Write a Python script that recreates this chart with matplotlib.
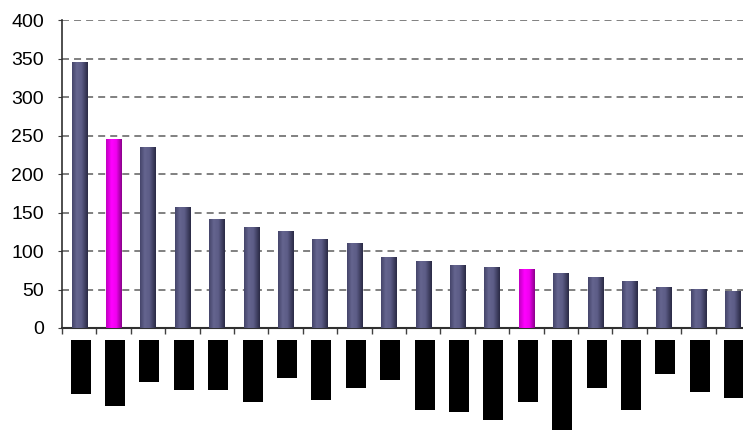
import numpy as np
import matplotlib.pyplot as plt
from matplotlib.colors import LinearSegmentedColormap

plt.rcParams['font.family'] = ['Liberation Sans', 'DejaVu Sans']

# values, sorted descending
values = [346, 245, 235, 157, 141, 131, 126, 116, 110, 92,
          87, 82, 79, 77, 71, 66, 61, 53, 51, 48]
# which bars are highlighted (magenta)
highlight = [1, 13]
# the category names are blacked out in the source: length of each black box (px)
label_len = [54, 66, 42, 50, 50, 62, 38, 60, 48, 40,
             70, 72, 80, 62, 90, 48, 70, 34, 52, 58]
yticks = [0, 50, 100, 150, 200, 250, 300, 350, 400]

W, H = 743, 430
fig = plt.figure(figsize=(W / 100, H / 100), dpi=100)
step = 34.4
n = len(values)
ax = fig.add_axes([62 / W, (H - 328) / H, n * step / W, 308 / H])

blue = LinearSegmentedColormap.from_list(
    'b', [(0, '#45456a'), (0.3, '#65658f'), (0.6, '#5c5c86'), (1, '#2a2a45')])
pink = LinearSegmentedColormap.from_list(
    'p', [(0, '#c000c0'), (0.35, '#ff00ff'), (0.65, '#f000f0'), (1, '#8a008a')])
grad = np.linspace(0, 1, 64).reshape(1, -1)

x = np.arange(n)
bars = ax.bar(x, values, width=0.44, color='none', zorder=3)
for i, b in enumerate(bars):
    x0 = b.get_x()
    cmap = pink if i in highlight else blue
    im = ax.imshow(grad, cmap=cmap, aspect='auto', zorder=3,
                   extent=(x0, x0 + b.get_width(), 0, b.get_height()))
    im.set_clip_path(b)

ax.set_xlim(-0.5, n - 0.5)
ax.set_ylim(0, 400)
ax.set_yticks(yticks)
ax.set_xticks(np.arange(-0.5, n, 1.0))
ax.set_xticklabels([])
ax.tick_params(axis='y', labelsize=14, length=3, pad=10, color='#404040')
ax.tick_params(axis='x', length=4, color='#404040', width=1)
ax.yaxis.grid(True, color='#808080', linewidth=1.4, linestyle=(0, (3.6, 2.6)), zorder=1)
ax.set_axisbelow(True)
for s in ['top', 'right']:
    ax.spines[s].set_visible(False)
ax.spines['left'].set_color('#303030')
ax.spines['bottom'].set_color('#303030')
ax.spines['left'].set_linewidth(1.2)
ax.spines['bottom'].set_linewidth(1.5)

# redacted category labels
lab = fig.add_axes([62 / W, 0, n * step / W, 90 / H])
lab.bar(x + 0.04, label_len, width=0.58, color='black')
lab.set_xlim(-0.5, n - 0.5)
lab.set_ylim(90, 0)
lab.axis('off')

fig.savefig('out.png', dpi=100)
